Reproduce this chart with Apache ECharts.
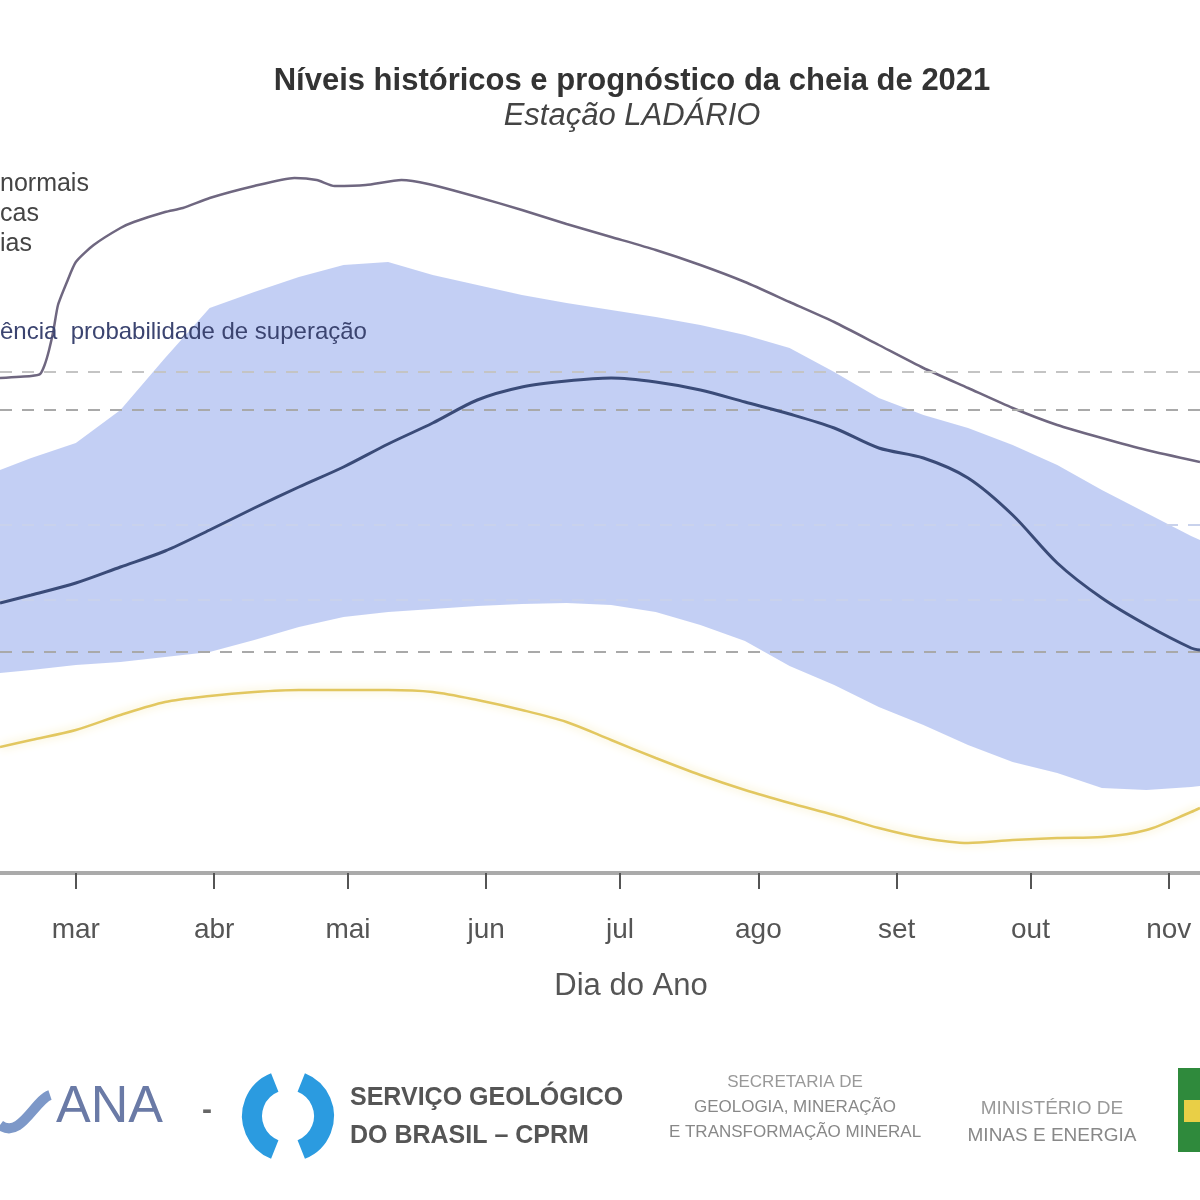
<!DOCTYPE html>
<html>
<head>
<meta charset="utf-8">
<script src="https://cdn.jsdelivr.net/npm/echarts@6/dist/echarts.min.js"></script>
<style>html,body{margin:0;padding:0;background:#fff}#c{width:1200px;height:1200px}</style>
</head>
<body>
<div id="c"></div>
<script>
// Day of year (x) and river level (m, estimated scale)
const monthDays = [60, 91, 121, 152, 182, 213, 244, 274, 305];
const monthLabels = ['mar', 'abr', 'mai', 'jun', 'jul', 'ago', 'set', 'out', 'nov'];

const maxDays = [43,50,52,53,54,55,56,58,60,64,70,73,80,84,90,100,109,114,118,125,133,139,150,160,170,180,190,200,210,220,230,240,250,260,270,280,290,300,312];
const maxLevels = [4.95,4.97,4.99,5.08,5.23,5.43,5.68,5.91,6.11,6.28,6.45,6.51,6.61,6.65,6.75,6.87,6.95,6.93,6.87,6.88,6.93,6.89,6.76,6.63,6.49,6.36,6.23,6.08,5.91,5.71,5.51,5.28,5.05,4.85,4.65,4.48,4.35,4.23,4.11];

const days = [43,50,60,70,80,90,100,110,120,130,140,150,160,170,180,190,200,210,220,230,240,250,260,270,280,290,300,310,312];
const medianLevels = [2.70,2.78,2.90,3.06,3.22,3.43,3.65,3.86,4.06,4.29,4.50,4.73,4.86,4.92,4.95,4.91,4.83,4.71,4.59,4.45,4.25,4.15,3.95,3.58,3.10,2.75,2.48,2.25,2.23];
const bandUpper = [4.03,4.15,4.30,4.63,5.15,5.65,5.81,5.96,6.08,6.11,5.98,5.88,5.78,5.70,5.63,5.56,5.48,5.38,5.25,5.01,4.75,4.58,4.45,4.28,4.08,3.83,3.60,3.37,3.33];
const bandLower = [2.00,2.03,2.08,2.11,2.16,2.21,2.33,2.46,2.56,2.61,2.64,2.67,2.69,2.70,2.68,2.61,2.48,2.32,2.07,1.88,1.66,1.48,1.28,1.11,1.00,0.85,0.83,0.86,0.87];
const minLevels = [1.26,1.33,1.43,1.58,1.71,1.77,1.81,1.83,1.83,1.83,1.81,1.73,1.63,1.51,1.33,1.15,0.98,0.83,0.70,0.58,0.45,0.35,0.30,0.33,0.35,0.36,0.43,0.61,0.65];

const refLevels = [5.01, 4.63, 3.48, 2.73, 2.21];

const pair = (xs, ys) => xs.map((x, i) => [x, ys[i]]);
const bandData = days.map((d, i) => [d, bandLower[i], bandUpper[i]]);

const chart = echarts.init(document.getElementById('c'), null, {renderer: 'canvas'});
const font = 'Liberation Sans, Arial, sans-serif';

chart.setOption({
  backgroundColor: '#ffffff',
  animation: false,
  grid: {left: 0, right: 0, top: 73, bottom: 327, containLabel: false},
  xAxis: {
    type: 'value', min: 43, max: 312,
    name: 'Dia do Ano', nameLocation: 'middle', nameGap: 98,
    nameTextStyle: {fontFamily: font, fontSize: 31, color: '#555', padding: [0, 0, 0, 62]},
    axisLine: {show: true, lineStyle: {color: '#aaaaaa', width: 4}},
    axisTick: {show: true, customValues: monthDays, length: 16, lineStyle: {color: '#555', width: 2}},
    axisLabel: {
      customValues: monthDays, margin: 43, fontFamily: font, fontSize: 28, color: '#555',
      formatter: v => monthLabels[monthDays.indexOf(v)] || ''
    },
    splitLine: {show: false}
  },
  yAxis: {type: 'value', min: 0, max: 8, show: false, splitLine: {show: false}},
  series: [
    {
      type: 'line', name: 'ref', data: [], z: 1, silent: true,
      markLine: {
        silent: true, symbol: 'none', label: {show: false},
        data: refLevels.map((v, i) => ({
          yAxis: v,
          lineStyle: {type: [12, 10], width: 2, color: (i === 2 || i === 3) ? '#c9d2ec' : (i === 0 ? '#c4c4c4' : '#a9a9a9')}
        }))
      }
    },
    {
      type: 'custom', name: 'faixa', z: 2, silent: true,
      data: bandData,
      encode: {x: 0, y: [1, 2]},
      renderItem: function (params, api) {
        if (params.dataIndex !== 0) return null;
        const top = [], bottom = [];
        for (let i = 0; i < bandData.length; i++) {
          top.push(api.coord([bandData[i][0], bandData[i][2]]));
          bottom.push(api.coord([bandData[i][0], bandData[i][1]]));
        }
        const pts = top.concat(bottom.reverse());
        return {type: 'polygon', shape: {points: pts}, style: {fill: '#bccaf3', opacity: 0.9}};
      }
    },
    {
      type: 'line', name: 'máximas', data: pair(maxDays, maxLevels), z: 4,
      symbol: 'none', smooth: 0.2, lineStyle: {color: '#6f6780', width: 2.5}
    },
    {
      type: 'line', name: 'mínimas', data: pair(days, minLevels), z: 4,
      symbol: 'none', smooth: 0.3,
      lineStyle: {color: '#e2c760', width: 2.5, shadowColor: '#f3e6a8', shadowBlur: 10}
    },
    {
      type: 'line', name: 'mediana', data: pair(days, medianLevels), z: 5,
      symbol: 'none', smooth: 0.3, lineStyle: {color: '#3a4b78', width: 3}
    }
  ],
  graphic: [
    {type: 'text', x: 632, y: 66, style: {text: 'Níveis históricos e prognóstico da cheia de 2021', font: 'bold 31px ' + font, fill: '#333', align: 'center'}},
    {type: 'text', x: 632, y: 101, style: {text: 'Estação LADÁRIO', font: 'italic 31px ' + font, fill: '#444', align: 'center'}},
    {type: 'text', x: 0, y: 172, style: {text: 'normais', font: '25px ' + font, fill: '#444'}},
    {type: 'text', x: 0, y: 202, style: {text: 'cas', font: '25px ' + font, fill: '#444'}},
    {type: 'text', x: 0, y: 232, style: {text: 'ias', font: '25px ' + font, fill: '#444'}},
    {type: 'text', x: 0, y: 320, z: 10, style: {text: 'ência  probabilidade de superação', font: '24px ' + font, fill: '#3b4470'}},
    // bottom logos
    {type: 'bezierCurve', shape: {x1: 0, y1: 1125, x2: 50, y2: 1095, cpx1: 20, cpy1: 1140, cpx2: 35, cpy2: 1100}, style: {stroke: '#7d98c8', lineWidth: 10, fill: null}},
    {type: 'text', x: 56, y: 1082, style: {text: 'ANA', font: '52px ' + font, fill: '#6a7aa6'}},
    {type: 'text', x: 202, y: 1096, style: {text: '-', font: 'bold 30px ' + font, fill: '#666'}},
    {type: 'arc', shape: {cx: 288, cy: 1116, r: 36, startAngle: Math.PI * 0.62, endAngle: Math.PI * 1.38}, style: {stroke: '#2b9be0', lineWidth: 20, fill: null}},
    {type: 'arc', shape: {cx: 288, cy: 1116, r: 36, startAngle: -Math.PI * 0.38, endAngle: Math.PI * 0.38}, style: {stroke: '#2b9be0', lineWidth: 20, fill: null}},
    {type: 'text', x: 350, y: 1086, style: {text: 'SERVIÇO GEOLÓGICO', font: 'bold 25px ' + font, fill: '#555'}},
    {type: 'text', x: 350, y: 1124, style: {text: 'DO BRASIL – CPRM', font: 'bold 25px ' + font, fill: '#555'}},
    {type: 'text', x: 795, y: 1074, style: {text: 'SECRETARIA DE', font: '17px ' + font, fill: '#999', align: 'center'}},
    {type: 'text', x: 795, y: 1099, style: {text: 'GEOLOGIA, MINERAÇÃO', font: '17px ' + font, fill: '#888', align: 'center'}},
    {type: 'text', x: 795, y: 1124, style: {text: 'E TRANSFORMAÇÃO MINERAL', font: '17px ' + font, fill: '#888', align: 'center'}},
    {type: 'text', x: 1052, y: 1099, style: {text: 'MINISTÉRIO DE', font: '19px ' + font, fill: '#999', align: 'center'}},
    {type: 'text', x: 1052, y: 1126, style: {text: 'MINAS E ENERGIA', font: '19px ' + font, fill: '#888', align: 'center'}},
    {type: 'rect', shape: {x: 1178, y: 1068, width: 22, height: 84}, style: {fill: '#2f8a3c'}},
    {type: 'rect', shape: {x: 1184, y: 1100, width: 16, height: 22}, style: {fill: '#e9cf46'}}
  ]
});
</script>
</body>
</html>
